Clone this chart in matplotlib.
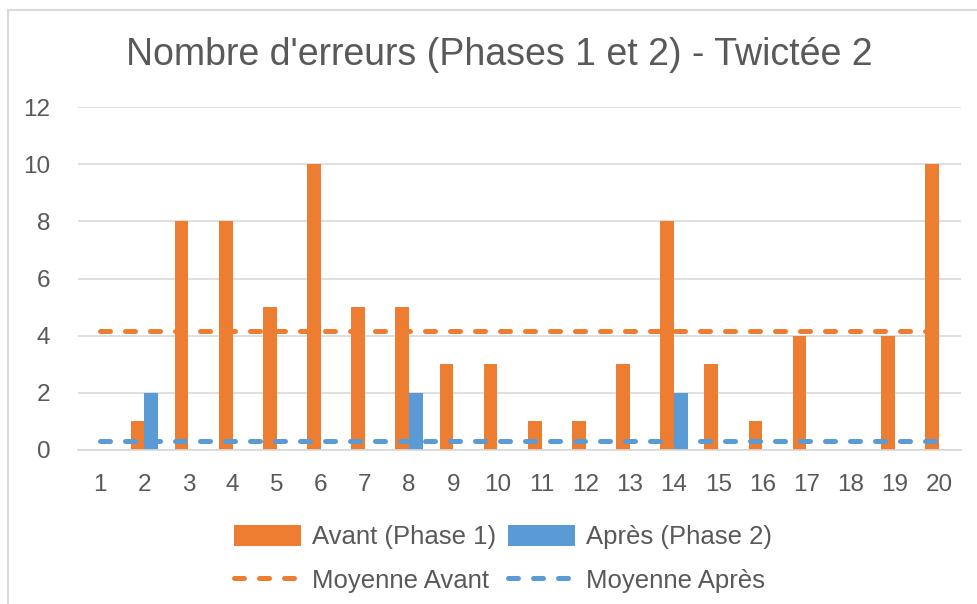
import matplotlib.pyplot as plt
from matplotlib.lines import Line2D
import numpy as np

plt.rcParams['font.family'] = ['Liberation Sans', 'DejaVu Sans']

# data
sessions = list(range(1, 21))
avant = [0, 1, 8, 8, 5, 10, 5, 5, 3, 3, 1, 1, 3, 8, 3, 1, 4, 0, 4, 10]
apres = [0, 2, 0, 0, 0, 0, 0, 2, 0, 0, 0, 0, 0, 2, 0, 0, 0, 0, 0, 0]
y_ticks = [0, 2, 4, 6, 8, 10, 12]

ORANGE = "#ED7D31"
BLUE = "#5B9BD5"
TEXT = "#595959"
GRID = "#D9D9D9"

moy_avant = np.mean(avant)
moy_apres = np.mean(apres)

fig = plt.figure(figsize=(9.78, 6.04), dpi=100)
W, H = 978, 604
ax = fig.add_axes([78 / W, (H - 450) / H, (961 - 78) / W, (450 - 107) / H])

x = np.array(sessions)
bw = 0.31
b1 = ax.bar(x - bw / 2, avant, width=bw, color=ORANGE, label="Avant (Phase 1)", zorder=2)
b2 = ax.bar(x + bw / 2, apres, width=bw, color=BLUE, label="Après (Phase 2)", zorder=2)

dash = dict(linewidth=3.6, dashes=(2, 3), dash_capstyle="round", zorder=3)
l1, = ax.plot(x, [moy_avant] * len(x), color=ORANGE, label="Moyenne Avant", **dash)
l2, = ax.plot(x, [moy_apres] * len(x), color=BLUE, label="Moyenne Après", **dash)

ax.set_xlim(0.5, 20.5)
ax.set_ylim(0, 12)
ax.set_xticks(x)
ax.set_xticklabels([str(s) for s in sessions])
ax.set_yticks(y_ticks)
ax.tick_params(axis="both", length=0, labelsize=17.5, colors=TEXT)
ax.tick_params(axis="x", pad=17)
ax.tick_params(axis="y", pad=20)
ax.grid(axis="y", color=GRID, linewidth=1.2, zorder=0)
ax.set_axisbelow(True)
for side in ["left", "right", "top"]:
    ax.spines[side].set_visible(False)
ax.spines["bottom"].set_color(GRID)
ax.spines["bottom"].set_linewidth(1.2)

fig.text(499 / W, 1 - 55 / H, "Nombre d'erreurs (Phases 1 et 2) - Twictée 2",
         ha="center", va="center", fontsize=27, color=TEXT)

# column-wise fill: bars on the first row, mean lines on the second
handles = [b1, l1, b2, l2]
labels = [h.get_label() for h in handles]
fig.legend(handles, labels, ncol=2,
           loc="center", bbox_to_anchor=(503 / W, 1 - 559 / H),
           frameon=False, fontsize=18.5, handlelength=2.6,
           handleheight=0.9, columnspacing=0.5, handletextpad=0.4,
           labelspacing=0.75, labelcolor=TEXT)

# chart frame (only top and left visible in the crop)
fig.add_artist(Line2D([8 / W, 1], [1 - 10 / H, 1 - 10 / H], color=GRID, linewidth=1.5))
fig.add_artist(Line2D([8 / W, 8 / W], [0, 1 - 10 / H], color=GRID, linewidth=1.5))

fig.savefig("out.png", dpi=100)
